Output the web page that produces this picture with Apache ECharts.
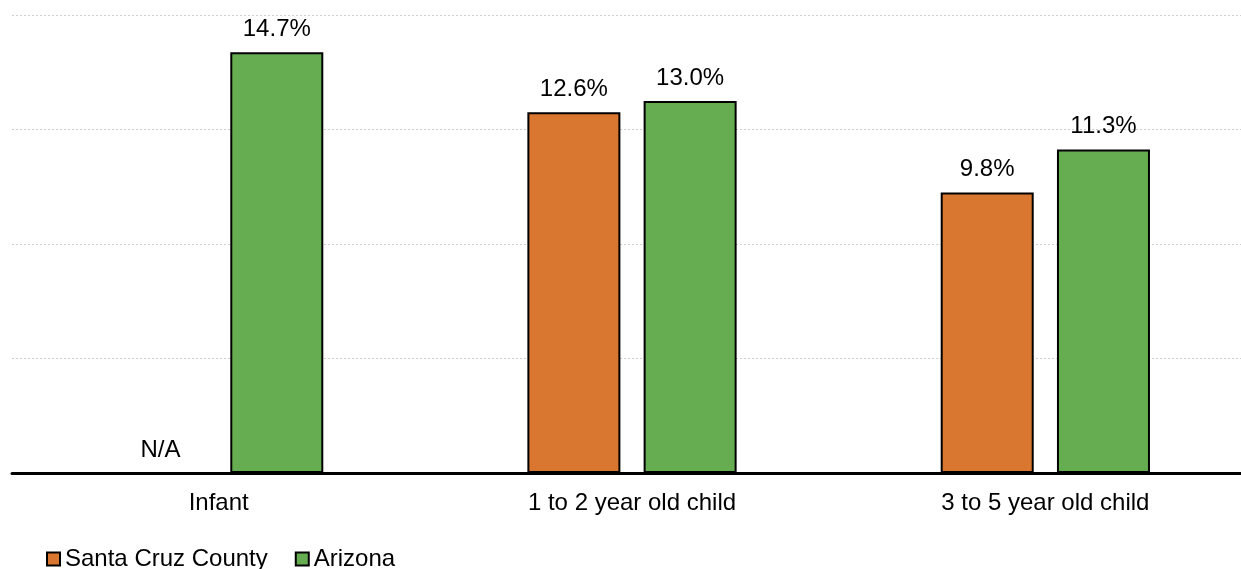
<!DOCTYPE html>
<html>
<head>
<meta charset="utf-8">
<script src="https://cdn.jsdelivr.net/npm/echarts@6/dist/echarts.min.js"></script>
<style>
  html, body { margin: 0; padding: 0; background: #fff; overflow: hidden; }
  /* plot area runs slightly past the right edge of the page */
  #chart { width: 1252px; height: 569px; }
</style>
</head>
<body>
<div id="chart"></div>
<script>
// Age groups along the x axis
const categories = ['Infant', '1 to 2 year old child', '3 to 5 year old child'];
// Percentages; null means no data reported (shown as N/A)
const santaCruz = [null, 12.6, 9.8];
const arizona = [14.7, 13.0, 11.3];
// Value axis range and gridline step
const yMin = 0;
const yMax = 16;
const yStep = 4;

const FONT = '"Liberation Sans", Arial, sans-serif';
const FONT_SIZE = 24;
const ORANGE = '#D97731';
const GREEN = '#66AD51';

function toBarData(values) {
  return values.map(v => v === null
    ? {
        value: 0,
        itemStyle: { color: 'transparent', borderColor: 'transparent', borderWidth: 0 },
        label: { formatter: 'N/A' }
      }
    : v);
}

const labelStyle = {
  show: true,
  position: 'top',
  distance: 11,
  fontFamily: FONT,
  fontSize: FONT_SIZE,
  color: '#000',
  formatter: p => p.value.toFixed(1) + '%'
};

const chart = echarts.init(document.getElementById('chart'));
chart.setOption({
  animation: false,
  backgroundColor: '#fff',
  grid: { left: 12, right: 0, top: 15, bottom: 96, containLabel: false },
  legend: {
    left: 41,
    top: 542,
    itemWidth: 13,
    itemHeight: 13,
    itemGap: 27,
    icon: 'rect',
    textStyle: { fontFamily: FONT, fontSize: FONT_SIZE, color: '#000' },
    data: [
      { name: 'Santa Cruz County', itemStyle: { color: ORANGE, borderColor: '#000', borderWidth: 2 } },
      { name: 'Arizona', itemStyle: { color: GREEN, borderColor: '#000', borderWidth: 2 } }
    ]
  },
  xAxis: {
    type: 'category',
    data: categories,
    axisLine: { show: true, lineStyle: { color: '#000', width: 3 } },
    axisTick: { show: false },
    axisLabel: { fontFamily: FONT, fontSize: FONT_SIZE, color: '#000', margin: 18 }
  },
  yAxis: {
    type: 'value',
    min: yMin,
    max: yMax,
    interval: yStep,
    axisLine: { show: false },
    axisTick: { show: false },
    axisLabel: { show: false },
    splitLine: { show: true, lineStyle: { color: '#cfcfcf', width: 1, type: [2, 2] } }
  },
  series: [
    {
      name: 'Santa Cruz County',
      type: 'bar',
      barWidth: 93,
      barGap: '25%',
      data: toBarData(santaCruz),
      itemStyle: { color: ORANGE, borderColor: '#000', borderWidth: 2 },
      label: labelStyle
    },
    {
      name: 'Arizona',
      type: 'bar',
      barWidth: 93,
      barGap: '25%',
      data: toBarData(arizona),
      itemStyle: { color: GREEN, borderColor: '#000', borderWidth: 2 },
      label: labelStyle
    }
  ]
});
</script>
</body>
</html>
